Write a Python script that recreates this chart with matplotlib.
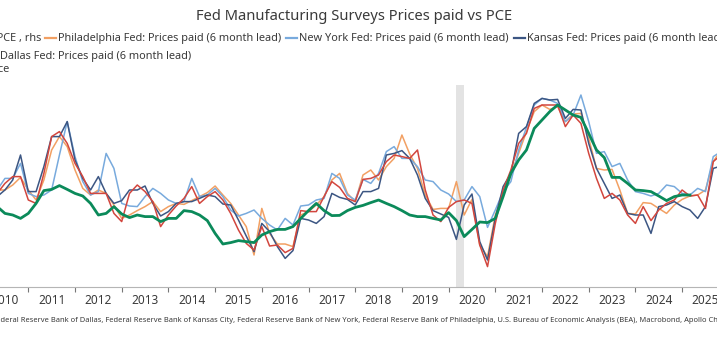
import numpy as np
import matplotlib
matplotlib.use("Agg")
import matplotlib.pyplot as plt
from matplotlib.lines import Line2D
from matplotlib.transforms import IdentityTransform

plt.rcParams['font.family'] = ['Noto Sans', 'DejaVu Sans']

# plotted positions start May 2010, one reading every two months
start_year = 2010 + 4 / 12
step = 2 / 12
lead = 0.5  # surveys are pushed forward six months

# US PCE y/y %, rhs
pce = [1.92, 1.58, 1.50, 1.33, 1.58, 2.08, 2.72, 2.78, 2.97, 2.78, 2.58, 2.45,
       2.08, 1.50, 1.58, 1.92, 1.55, 1.37, 1.50, 1.42, 1.42, 1.17, 1.33, 1.33,
       1.72, 1.67, 1.50, 1.22, 0.58, 0.05, 0.12, 0.22, 0.17, 0.12, 0.50, 0.67,
       0.78, 0.78, 0.92, 1.33, 1.72, 2.08, 1.72, 1.47, 1.48, 1.72, 1.88, 1.98,
       2.12, 2.25, 2.08, 1.92, 1.72, 1.50, 1.42, 1.42, 1.33, 1.25, 1.62, 1.22,
       0.42, 0.78, 1.15, 1.12, 1.33, 2.42, 3.58, 4.25, 4.75, 5.83, 6.25, 6.67,
       7.00, 6.75, 6.50, 6.38, 5.58, 4.75, 4.37, 3.38, 3.38, 3.08, 2.75, 2.72,
       2.67, 2.45, 2.22, 2.42, 2.50, 2.50]

# prices paid diffusion indexes (values at plotted, i.e. led, position)
philly = [30.0, 30.0, 32.5, 36.3, 30.0, 25.0, 35.0, 50.0, 56.7, 51.7, 40.0, 30.8,
          27.5, 30.0, 28.3, 22.5, 15.8, 17.5, 19.7, 21.7, 24.2, 19.2, 21.7, 23.3,
          22.8, 24.7, 26.7, 28.7, 32.0, 27.5, 23.3, 17.5, 11.7, -2.5, 20.8, 8.3,
          3.0, 3.0, 1.7, 17.5, 19.2, 22.5, 26.7, 35.0, 38.3, 28.3, 24.2, 37.5,
          40.0, 35.0, 41.7, 45.8, 57.5, 48.0, 40.8, 27.5, 20.3, 20.8, 20.8, 34.2,
          17.5, 25.3, 2.5, -3.3, 17.5, 29.2, 37.5, 48.3, 59.2, 69.2, 72.5, 70.3,
          71.7, 64.2, 68.0, 68.3, 55.8, 40.8, 40.0, 40.3, 30.0, 18.3, 18.0, 23.7,
          23.3, 20.8, 18.3, 22.5, 25.3, 27.0, 27.5, 30.0, 44.2, 50.0]

new_york = [30.0, 35.8, 35.8, 43.3, 28.3, 26.7, 27.5, 30.0, 47.5, 64.2, 46.7, 34.2,
            27.5, 29.2, 48.3, 40.8, 23.3, 22.0, 21.7, 26.7, 30.8, 28.3, 25.0, 23.3,
            24.2, 35.8, 26.7, 27.5, 30.8, 26.7, 20.0, 17.0, 18.3, 20.0, 15.8, 12.5,
            10.0, 15.8, 12.5, 22.0, 22.5, 25.0, 25.8, 38.3, 35.8, 27.5, 25.0, 35.3,
            33.3, 38.3, 49.2, 51.7, 45.8, 45.8, 41.7, 35.0, 34.2, 30.0, 28.0, 24.2,
            25.0, 31.7, 26.7, 11.3, 20.0, 29.2, 34.2, 50.0, 61.3, 72.5, 75.8, 75.0,
            73.3, 64.2, 67.5, 77.5, 64.2, 48.3, 49.2, 41.7, 43.3, 35.0, 29.2, 28.3,
            27.0, 28.3, 32.5, 31.7, 28.3, 27.5, 30.8, 29.2, 46.7, 49.2]

kansas = [26.7, 30.0, 35.0, 47.5, 29.2, 29.2, 41.7, 56.7, 56.7, 64.2, 45.0, 35.8,
          30.0, 36.7, 28.3, 23.3, 24.7, 30.0, 30.0, 32.0, 23.3, 17.0, 19.2, 23.3,
          24.2, 24.2, 25.8, 27.5, 26.7, 23.0, 22.5, 15.0, 7.0, -0.8, 13.3, 9.2,
          1.7, -4.2, -0.3, 15.8, 15.0, 13.3, 16.7, 28.3, 26.3, 25.3, 22.5, 29.2,
          29.2, 30.8, 47.5, 48.3, 49.7, 45.8, 37.5, 25.8, 19.7, 18.0, 16.3, 5.3,
          22.5, 28.0, 4.2, -5.0, 15.8, 31.7, 38.3, 58.3, 61.7, 73.3, 75.8, 75.0,
          75.3, 65.8, 70.3, 70.0, 53.3, 40.8, 33.3, 25.8, 27.5, 18.3, 17.5, 17.5,
          8.3, 21.7, 22.5, 24.2, 21.7, 20.0, 15.8, 21.7, 40.8, 42.0]

dallas = [28.3, 33.3, 36.7, 36.7, 25.0, 23.3, 38.3, 56.7, 59.2, 53.3, 43.3, 36.7,
          28.3, 28.3, 28.3, 18.3, 14.2, 28.3, 32.5, 29.2, 24.2, 11.7, 17.5, 22.0,
          25.8, 31.7, 23.3, 26.7, 29.2, 25.0, 18.3, 10.0, 3.3, 0.0, 11.7, 2.0,
          2.5, -1.3, 0.8, 19.7, 19.2, 19.2, 26.7, 34.2, 31.3, 25.8, 24.2, 35.3,
          35.8, 37.5, 44.2, 47.5, 46.7, 45.8, 50.0, 30.0, 17.5, 14.2, 21.3, 24.2,
          25.0, 23.3, 2.5, -8.3, 13.3, 30.0, 40.0, 53.3, 58.3, 70.8, 72.5, 72.5,
          72.5, 61.7, 67.5, 63.3, 48.3, 35.8, 25.8, 28.3, 25.0, 17.5, 13.3, 21.7,
          14.7, 20.0, 23.3, 25.0, 30.0, 27.0, 27.5, 20.8, 44.2, 47.5]

year_labels = list(range(2010, 2026))

title = "Fed Manufacturing Surveys Prices paid vs PCE"
source = ("Source: Federal Reserve Bank of Dallas, Federal Reserve Bank of Kansas City, "
          "Federal Reserve Bank of New York, Federal Reserve Bank of Philadelphia, "
          "U.S. Bureau of Economic Analysis (BEA), Macrobond, Apollo Chief Economist")

c_pce = "#0b8a5a"
c_philly = "#f2a063"
c_ny = "#78aadd"
c_kansas = "#3c5683"
c_dallas = "#d2463e"
text_c = "#3a3a3a"

W, H = 717, 355
fig = plt.figure(figsize=(W / 100, H / 100), dpi=100)
ax = fig.add_axes([0, 1 - 287 / H, 1, (287 - 85) / H])
ax2 = ax.twinx()

t_pce = start_year + step * np.arange(len(pce))
t_svy = (start_year - lead) + step * np.arange(len(philly))

ax.axvspan(2020 + 2 / 12, 2020 + 4 / 12, color="#e3e3e3", lw=0, zorder=0)
ax.plot(t_svy + lead, philly, color=c_philly, lw=1.1)
ax.plot(t_svy + lead, new_york, color=c_ny, lw=1.1)
ax.plot(t_svy + lead, kansas, color=c_kansas, lw=1.1)
ax.plot(t_svy + lead, dallas, color=c_dallas, lw=1.1)
ax2.plot(t_pce, pce, color=c_pce, lw=2.0)

ax.set_xlim(2010.394, 2025.747)
ax.set_ylim(-18.5, 82.5)
ax2.set_ylim(-2.1, 8.0)

for a in (ax, ax2):
    for s in ("top", "left", "right"):
        a.spines[s].set_visible(False)
    a.tick_params(axis="y", left=False, right=False, labelleft=False, labelright=False)
ax.spines["bottom"].set_color("#b5b5b5")
ax2.spines["bottom"].set_visible(False)

ax.set_xticks(year_labels[1:])
ax.set_xticklabels([])
ax.set_xticks([y + 0.5 for y in year_labels], minor=True)
ax.set_xticklabels([str(y) for y in year_labels], minor=True)
ax.tick_params(axis="x", which="major", length=3.5, width=0.8, color="#777777")
ax.tick_params(axis="x", which="minor", length=0, pad=5, labelsize=8.5, labelcolor=text_c)

fig.text(354 / W, 1 - 17 / H, title, ha="center", va="center", fontsize=10.6, color=text_c)

# legend drawn by hand so it can run off the left edge like the original
ident = IdentityTransform()
renderer = fig.canvas.get_renderer()
leg_fs = 7.9


def legend_item(x, y, label, color, right=False):
    t = fig.text(x, H - y, label, transform=ident, fontsize=leg_fs, color=text_c,
                 va="center", ha="right" if right else "left")
    bb = t.get_window_extent(renderer)
    fig.add_artist(Line2D([bb.x0 - 13, bb.x0 - 2], [H - y, H - y], transform=ident,
                          color=color, lw=1.6))
    return bb.x1


legend_item(41, 38, "US: PCE , rhs", c_pce, right=True)
x = legend_item(58, 38, "Philadelphia Fed: Prices paid (6 month lead)", c_philly)
x = legend_item(x + 18, 38, "New York Fed: Prices paid (6 month lead)", c_ny)
legend_item(x + 18, 38, "Kansas Fed: Prices paid (6 month lead)", c_kansas)
legend_item(0, 56, "Dallas Fed: Prices paid (6 month lead)", c_dallas)
fig.text(9, H - 70, "Net balance", transform=ident, fontsize=leg_fs, color=text_c,
         va="center", ha="right")

# source line, sized so the visible part spans the width
shown = source[source.index("deral"):source.index("Apollo Ch") + len("Apollo Ch")]
probe = fig.text(0, 0, shown, transform=ident, fontsize=6)
fs = 6 * W / probe.get_window_extent(renderer).width
probe.set_text("Source: Fe")
probe.set_fontsize(fs)
off = probe.get_window_extent(renderer).width
probe.remove()
fig.text(-off, H - 321, source, transform=ident, fontsize=fs, color=text_c, va="center")

fig.savefig("out.png", dpi=100)
